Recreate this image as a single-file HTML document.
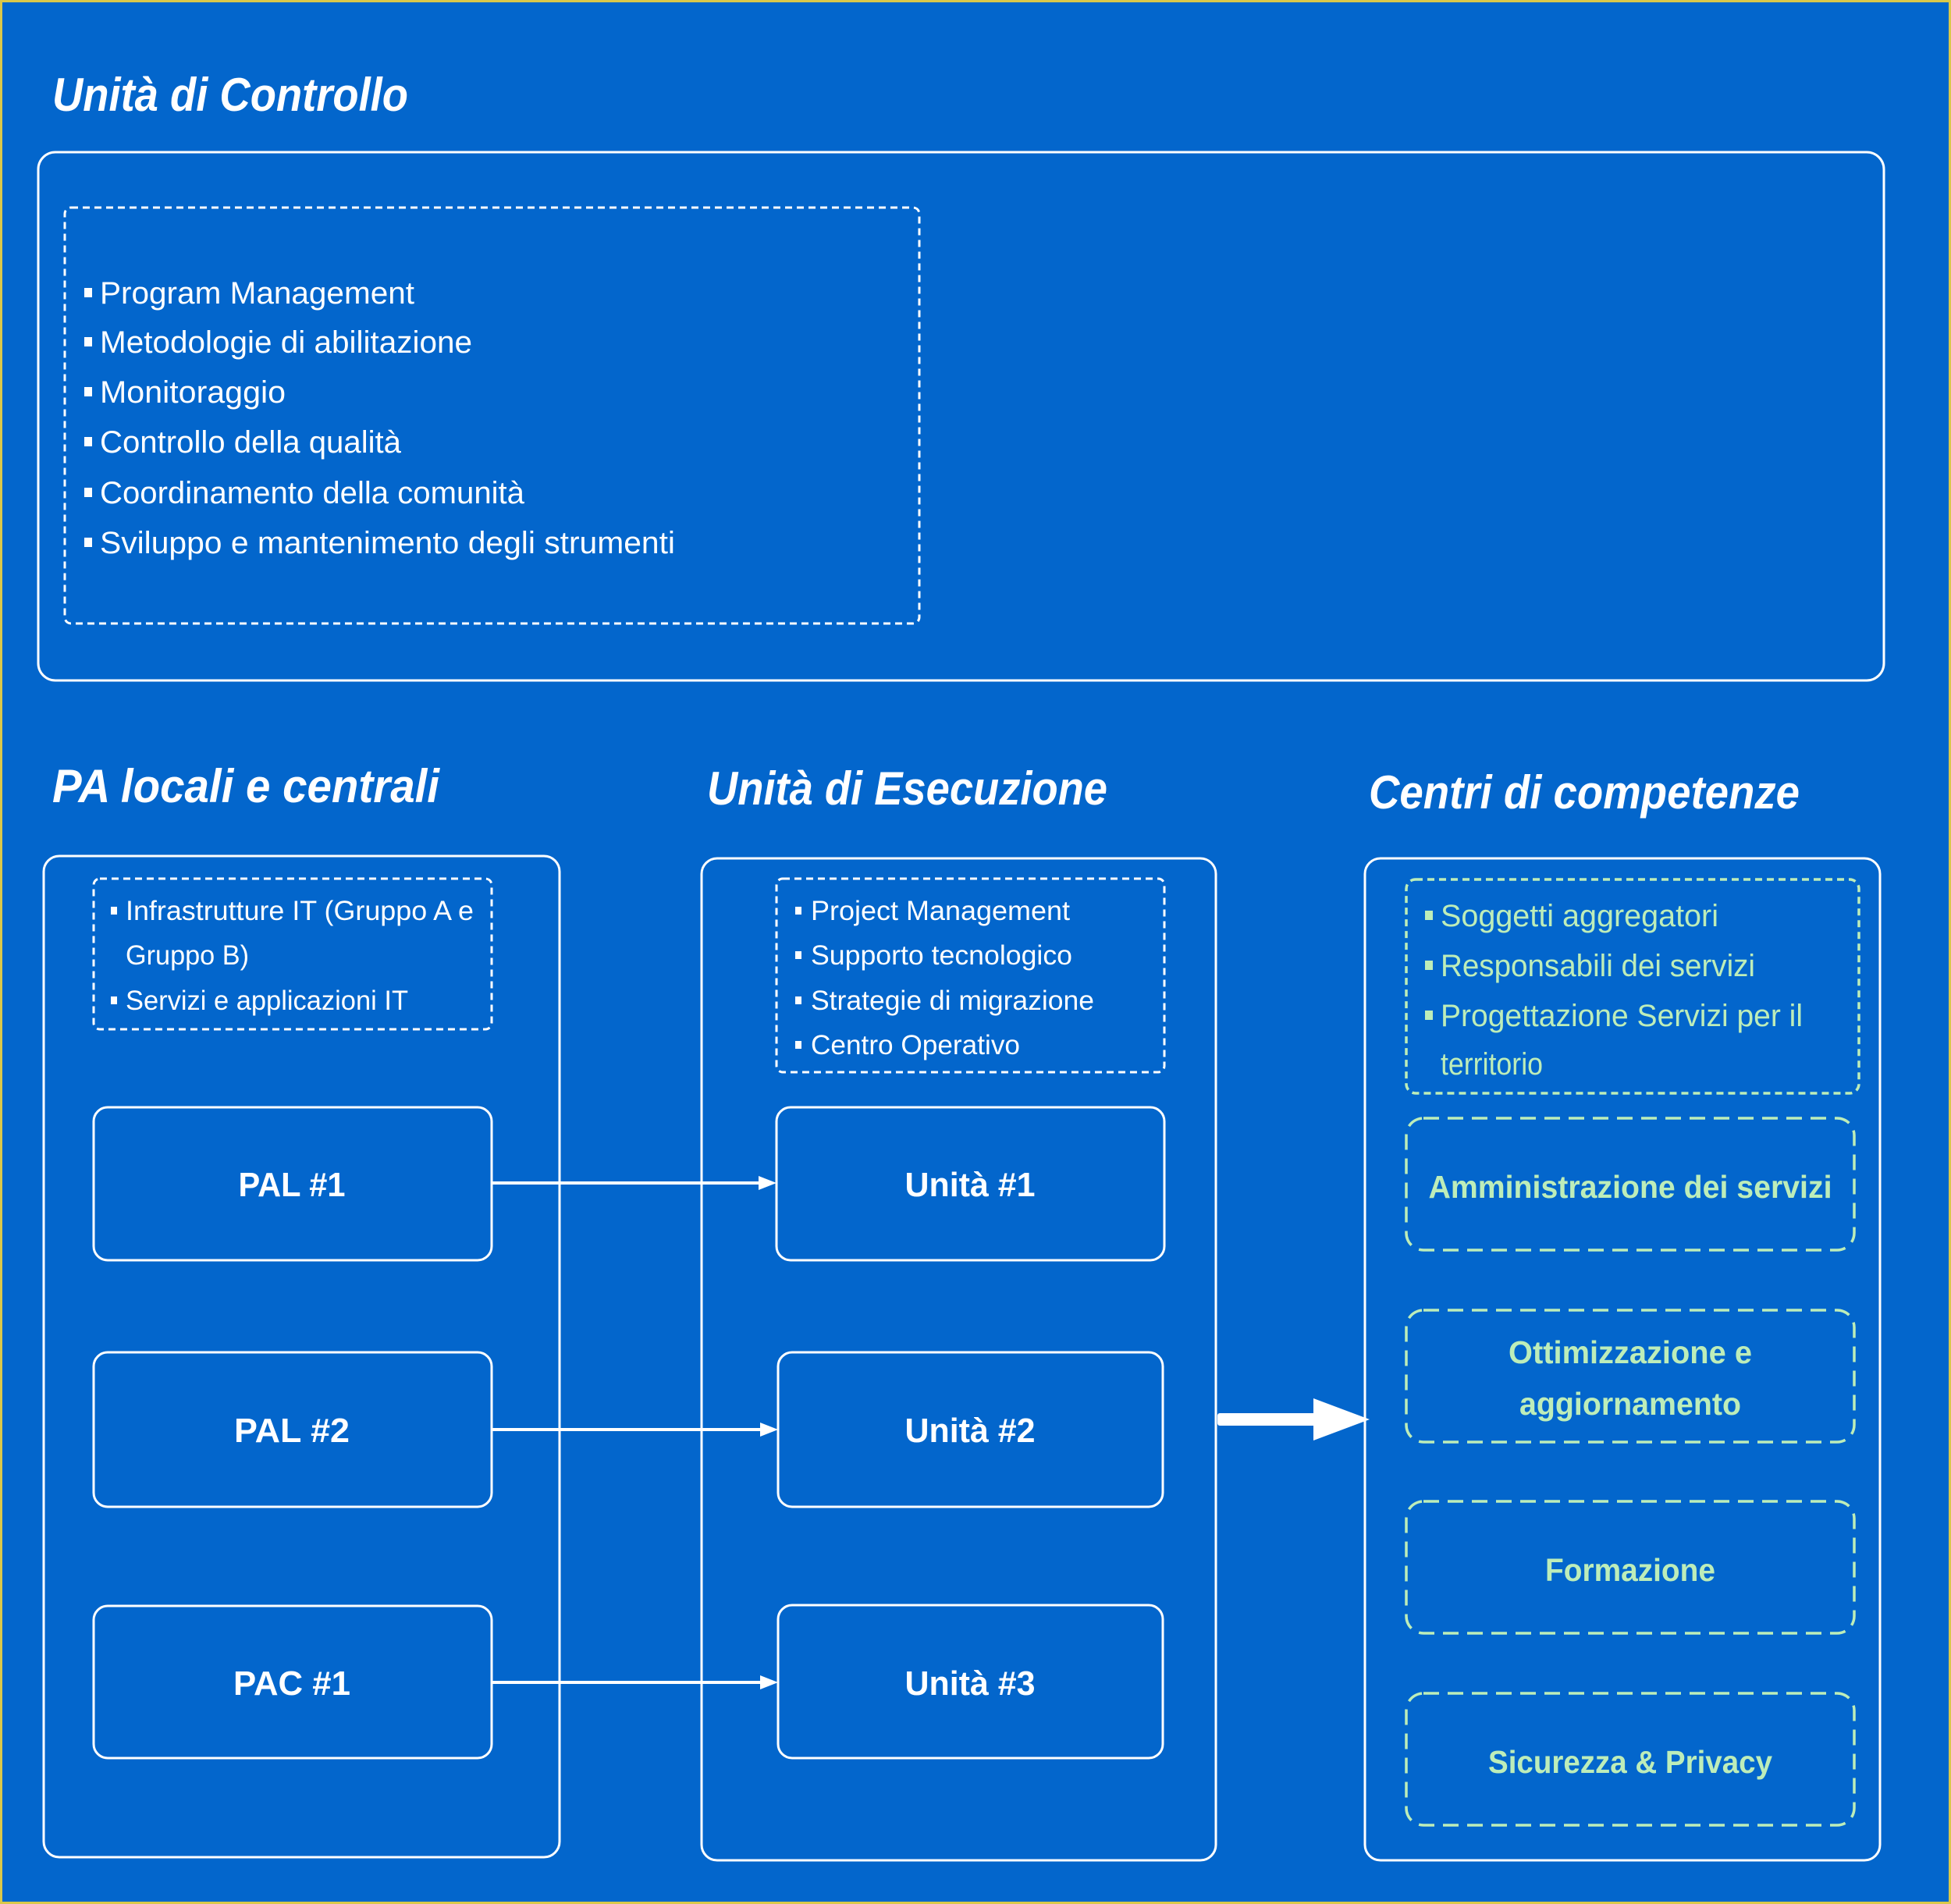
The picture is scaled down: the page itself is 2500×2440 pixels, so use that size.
<!DOCTYPE html>
<html><head><meta charset="utf-8"><style>
html,body{margin:0;padding:0;background:#0366CC;}
svg{display:block;}
text{font-family:"Liberation Sans",sans-serif;}
</style></head><body>
<svg width="2500" height="2440" viewBox="0 0 2500 2440" xmlns="http://www.w3.org/2000/svg">
<defs>
<marker id="ah" markerWidth="10" markerHeight="10" refX="9" refY="5" orient="auto" markerUnits="userSpaceOnUse" viewBox="0 0 10 10">
</marker>
</defs>
<rect x="0" y="0" width="2500" height="2440" fill="#0366CC"/>
<rect x="1.5" y="1.5" width="2497" height="2437" fill="none" stroke="#D9C84A" stroke-width="3"/>

<!-- Titles -->
<g fill="#fff" font-style="italic" font-weight="bold" font-size="60">
<text x="67" y="142" textLength="456" lengthAdjust="spacingAndGlyphs">Unità di Controllo</text>
<text x="67" y="1028" textLength="496" lengthAdjust="spacingAndGlyphs">PA  locali e centrali</text>
<text x="906" y="1031" textLength="513" lengthAdjust="spacingAndGlyphs">Unità di Esecuzione</text>
<text x="1754" y="1036" textLength="552" lengthAdjust="spacingAndGlyphs">Centri di competenze</text>
</g>

<!-- Control box -->
<rect x="49" y="195" width="2365" height="677" rx="22" fill="none" stroke="#fff" stroke-width="3"/>
<rect x="83" y="266" width="1095" height="533" rx="8" fill="none" stroke="#fff" stroke-width="3" stroke-dasharray="9 6"/>
<g fill="#fff" font-size="40">
<rect x="108" y="369" width="10" height="12"/><text x="128" y="389" textLength="403" lengthAdjust="spacingAndGlyphs">Program Management</text>
<rect x="108" y="432" width="10" height="12"/><text x="128" y="452" textLength="477" lengthAdjust="spacingAndGlyphs">Metodologie di abilitazione</text>
<rect x="108" y="496" width="10" height="12"/><text x="128" y="516" textLength="238" lengthAdjust="spacingAndGlyphs">Monitoraggio</text>
<rect x="108" y="560" width="10" height="12"/><text x="128" y="580" textLength="386" lengthAdjust="spacingAndGlyphs">Controllo della qualità</text>
<rect x="108" y="625" width="10" height="12"/><text x="128" y="645" textLength="544" lengthAdjust="spacingAndGlyphs">Coordinamento della comunità</text>
<rect x="108" y="689" width="10" height="12"/><text x="128" y="709" textLength="737" lengthAdjust="spacingAndGlyphs">Sviluppo e mantenimento degli strumenti</text>
</g>

<!-- Column boxes -->
<rect x="56" y="1097" width="661" height="1283" rx="20" fill="none" stroke="#fff" stroke-width="3"/>
<rect x="899" y="1100" width="659" height="1284" rx="20" fill="none" stroke="#fff" stroke-width="3"/>
<rect x="1749" y="1100" width="660" height="1284" rx="20" fill="none" stroke="#fff" stroke-width="3"/>

<!-- Left dashed list -->
<rect x="120" y="1126" width="510" height="193" rx="8" fill="none" stroke="#fff" stroke-width="3" stroke-dasharray="9 6"/>
<g fill="#fff" font-size="35">
<rect x="142" y="1162" width="8" height="10"/><text x="161" y="1179" textLength="446" lengthAdjust="spacingAndGlyphs">Infrastrutture IT (Gruppo A e</text>
<text x="161" y="1236" textLength="158" lengthAdjust="spacingAndGlyphs">Gruppo B)</text>
<rect x="142" y="1277" width="8" height="10"/><text x="161" y="1294" textLength="362" lengthAdjust="spacingAndGlyphs">Servizi e applicazioni IT</text>
</g>

<!-- Middle dashed list -->
<rect x="995" y="1126" width="497" height="248" rx="8" fill="none" stroke="#fff" stroke-width="3" stroke-dasharray="9 6"/>
<g fill="#fff" font-size="35">
<rect x="1019" y="1162" width="8" height="10"/><text x="1039" y="1179" textLength="332" lengthAdjust="spacingAndGlyphs">Project Management</text>
<rect x="1019" y="1219" width="8" height="10"/><text x="1039" y="1236" textLength="335" lengthAdjust="spacingAndGlyphs">Supporto tecnologico</text>
<rect x="1019" y="1277" width="8" height="10"/><text x="1039" y="1294" textLength="363" lengthAdjust="spacingAndGlyphs">Strategie di migrazione</text>
<rect x="1019" y="1334" width="8" height="10"/><text x="1039" y="1351" textLength="268" lengthAdjust="spacingAndGlyphs">Centro Operativo</text>
</g>

<!-- PA boxes -->
<g fill="none" stroke="#fff" stroke-width="3">
<rect x="120" y="1419" width="510" height="196" rx="18"/>
<rect x="120" y="1733" width="510" height="198" rx="18"/>
<rect x="120" y="2058" width="510" height="195" rx="18"/>
<rect x="995" y="1419" width="497" height="196" rx="18"/>
<rect x="997" y="1733" width="493" height="198" rx="18"/>
<rect x="997" y="2057" width="493" height="196" rx="18"/>
</g>
<g fill="#fff" font-size="44" font-weight="bold" text-anchor="middle">
<text x="374" y="1533" textLength="137" lengthAdjust="spacingAndGlyphs">PAL #1</text>
<text x="374" y="1848" textLength="148" lengthAdjust="spacingAndGlyphs">PAL  #2</text>
<text x="374" y="2172" textLength="150" lengthAdjust="spacingAndGlyphs">PAC  #1</text>
<text x="1243" y="1533" textLength="167" lengthAdjust="spacingAndGlyphs">Unità #1</text>
<text x="1243" y="1848" textLength="167" lengthAdjust="spacingAndGlyphs">Unità #2</text>
<text x="1243" y="2172" textLength="167" lengthAdjust="spacingAndGlyphs">Unità #3</text>
</g>

<!-- Connectors -->
<g stroke="#fff" stroke-width="4">
<line x1="630" y1="1516" x2="975" y2="1516"/>
<line x1="630" y1="1832" x2="977" y2="1832"/>
<line x1="630" y1="2156" x2="977" y2="2156"/>
</g>
<g fill="#fff">
<polygon points="995,1516 972,1507 972,1525"/>
<polygon points="997,1832 974,1823 974,1841"/>
<polygon points="997,2156 974,2147 974,2165"/>
<rect x="1560" y="1811" width="126" height="16" rx="3"/>
<polygon points="1683,1792 1755,1819 1683,1846"/>
</g>

<!-- Right green -->
<rect x="1802" y="1127" width="580" height="274" rx="12" fill="none" stroke="#BDEDB9" stroke-width="3.5" stroke-dasharray="9 6"/>
<g fill="#BDEDB9" font-size="40">
<rect x="1826" y="1167" width="10" height="12"/><text x="1846" y="1187" textLength="356" lengthAdjust="spacingAndGlyphs">Soggetti aggregatori</text>
<rect x="1826" y="1231" width="10" height="12"/><text x="1846" y="1251" textLength="403" lengthAdjust="spacingAndGlyphs">Responsabili dei servizi</text>
<rect x="1826" y="1295" width="10" height="12"/><text x="1846" y="1315" textLength="464" lengthAdjust="spacingAndGlyphs">Progettazione Servizi per il</text>
<text x="1846" y="1377" textLength="131" lengthAdjust="spacingAndGlyphs">territorio</text>
</g>
<g fill="none" stroke="#BDEDB9" stroke-width="3.5" stroke-dasharray="20 11">
<rect x="1802" y="1433" width="574" height="169" rx="22"/>
<rect x="1802" y="1679" width="574" height="169" rx="22"/>
<rect x="1802" y="1924" width="574" height="169" rx="22"/>
<rect x="1802" y="2170" width="574" height="169" rx="22"/>
</g>
<g fill="#BDEDB9" font-size="41" font-weight="bold" text-anchor="middle">
<text x="2089" y="1535" textLength="517" lengthAdjust="spacingAndGlyphs">Amministrazione dei servizi</text>
<text x="2089" y="1747" textLength="312" lengthAdjust="spacingAndGlyphs">Ottimizzazione e</text>
<text x="2089" y="1813" textLength="284" lengthAdjust="spacingAndGlyphs">aggiornamento</text>
<text x="2089" y="2026" textLength="218" lengthAdjust="spacingAndGlyphs">Formazione</text>
<text x="2089" y="2272" textLength="364" lengthAdjust="spacingAndGlyphs">Sicurezza &amp; Privacy</text>
</g>
</svg>
</body></html>
